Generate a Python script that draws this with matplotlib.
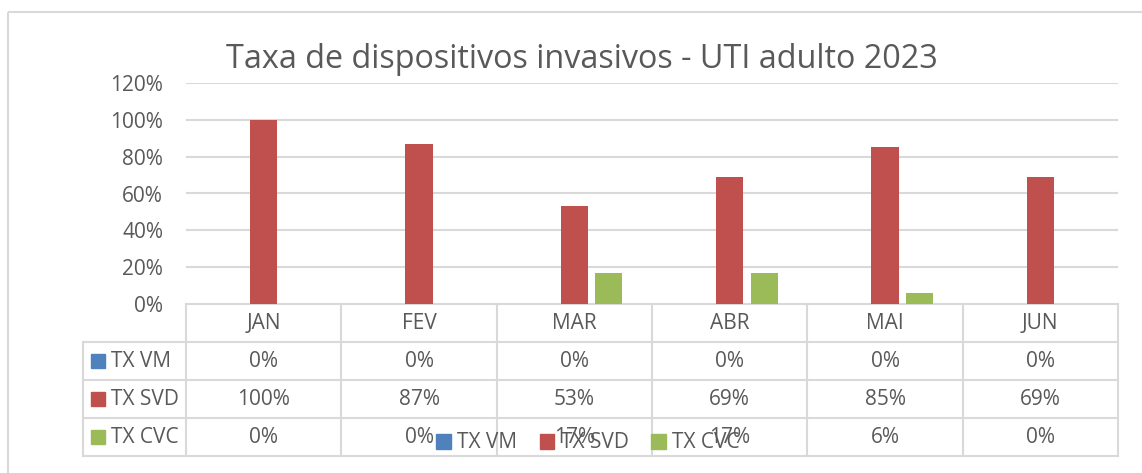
import matplotlib
matplotlib.use('Agg')
import matplotlib.pyplot as plt
from matplotlib.patches import Patch, Rectangle
from matplotlib.lines import Line2D

months = ['JAN', 'FEV', 'MAR', 'ABR', 'MAI', 'JUN']
series = ['TX VM', 'TX SVD', 'TX CVC']
tx_vm = [0, 0, 0, 0, 0, 0]
tx_svd = [100, 87, 53, 69, 85, 69]
tx_cvc = [0, 0, 17, 17, 6, 0]
yticks = [0, 20, 40, 60, 80, 100, 120]

colors = ['#4F81BD', '#C0504D', '#9BBB59']
text_c = '#595959'
line_c = '#D9D9D9'


def main():
    plt.rcParams['font.family'] = ['Open Sans', 'DejaVu Sans']
    W, H = 1142, 473
    fig = plt.figure(figsize=(W / 100, H / 100), dpi=100)

    # pixel helpers
    x0, x1 = 186, 1118
    y_top, y_zero = 83, 304
    ax = fig.add_axes([x0 / W, 1 - y_zero / H, (x1 - x0) / W, (y_zero - y_top) / H])

    values = [tx_vm, tx_svd, tx_cvc]
    xs = range(len(months))
    bw, off = 0.174, 0.222
    for i, (vals, c) in enumerate(zip(values, colors)):
        ax.bar([x + (i - 1) * off for x in xs], vals, width=bw, color=c, zorder=3)

    ax.set_xlim(-0.5, len(months) - 0.5)
    ax.set_ylim(0, 120)
    ax.set_yticks(yticks)
    ax.set_yticklabels([f'{v}%' for v in yticks], fontsize=15, color=text_c)
    ax.tick_params(axis='y', length=0, pad=16.5)
    ax.set_xticks([])
    ax.grid(axis='y', color=line_c, linewidth=1.5, zorder=0)
    for s in ax.spines.values():
        s.set_visible(False)

    # overlay in pixel coordinates for the data table
    ov = fig.add_axes([0, 0, 1, 1], zorder=-1)
    ov.set_xlim(0, W)
    ov.set_ylim(H, 0)
    ov.axis('off')
    ov.patch.set_alpha(0)

    ov.add_patch(Rectangle((8, 12), W + 20, H + 20, fill=False, ec=line_c, lw=1.5))

    rows = [304, 342, 380, 418, 456]
    lab_x = 83
    cw = (x1 - x0) / len(months)
    lw = 1.5
    ov.add_line(Line2D([x0, x1], [rows[0]] * 2, color=line_c, lw=lw))
    for r in rows[1:]:
        ov.add_line(Line2D([lab_x, x1], [r] * 2, color=line_c, lw=lw))
    for j in range(len(months) + 1):
        ov.add_line(Line2D([x0 + j * cw] * 2, [rows[0], rows[-1]], color=line_c, lw=lw))
    ov.add_line(Line2D([lab_x] * 2, [rows[1], rows[-1]], color=line_c, lw=lw))

    for j, m in enumerate(months):
        ov.text(x0 + (j + 0.5) * cw, (rows[0] + rows[1]) / 2, m, ha='center', va='center',
                fontsize=15, color=text_c)
    for i, (name, vals, c) in enumerate(zip(series, values, colors)):
        yc = (rows[i + 1] + rows[i + 2]) / 2
        ov.add_patch(Rectangle((91, yc - 7), 14, 14, color=c))
        ov.text(111, yc, name, ha='left', va='center', fontsize=15, color=text_c)
        for j, v in enumerate(vals):
            ov.text(x0 + (j + 0.5) * cw, yc, f'{v}%', ha='center', va='center',
                    fontsize=15, color=text_c)

    ov.text(582, 68, 'Taxa de dispositivos invasivos - UTI adulto 2023', ha='center',
            va='baseline', fontsize=23.3, color=text_c)

    handles = [Patch(color=c, label=s) for s, c in zip(series, colors)]
    fig.legend(handles=handles, loc='center', bbox_to_anchor=(588 / W, 1 - 443 / H), ncol=3,
               frameon=False, fontsize=15, handlelength=0.7, handleheight=0.7,
               handletextpad=0.3, columnspacing=1.1, labelcolor=text_c)

    fig.savefig('out.png', dpi=100, facecolor='white')


if __name__ == '__main__':
    main()
